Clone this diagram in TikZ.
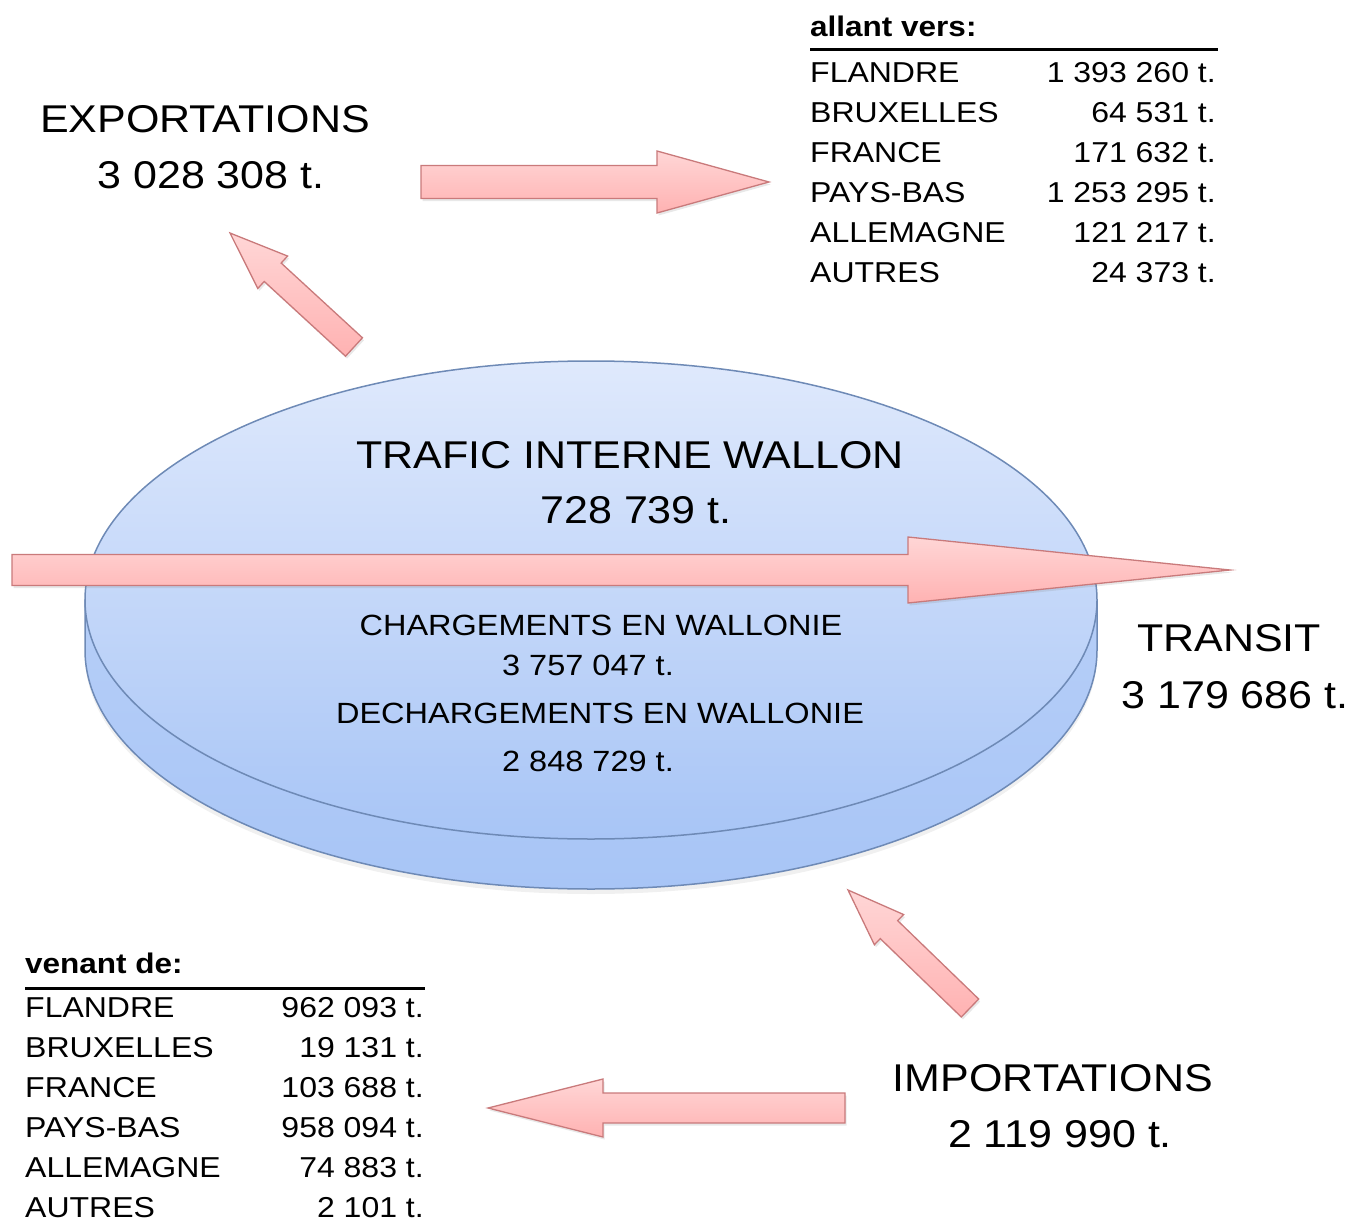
\documentclass[tikz,border=0pt]{standalone}
\usepackage{fontspec}
\setmainfont{Liberation Sans}
\usetikzlibrary{calc,shadows}
\definecolor{arrowedge}{HTML}{C97A7B}
\definecolor{arrowtop}{HTML}{FFD6D6}
\definecolor{arrowbot}{HTML}{FFB2B2}
\definecolor{discedge}{HTML}{6E8AB6}
\definecolor{disctop}{HTML}{DFE9FC}
\definecolor{discbot}{HTML}{A8C5F6}
\newcommand{\vsq}[1]{\scalebox{1}[0.9]{#1}}
\tikzset{
  big/.style={font=\fontsize{43}{48}\selectfont, inner sep=0pt},
  mid/.style={font=\fontsize{32.5}{38}\selectfont, inner sep=0pt},
  tabname/.style={font=\fontsize{32}{38}\selectfont, inner sep=0pt, anchor=west},
  tabnum/.style={font=\fontsize{32}{38}\selectfont, inner sep=0pt, anchor=east},
  tabhead/.style={font=\fontsize{31.5}{38}\selectfont\bfseries, inner sep=0pt, anchor=base west},
  tabrule/.style={line width=3pt},
  blockarrowstyle/.style={draw=arrowedge, line width=1.3pt, top color=arrowtop, bottom color=arrowbot, line join=miter,
    drop shadow={shadow xshift=1.5pt, shadow yshift=-2.5pt, opacity=0.18, fill=gray}},
  discstyle/.style={draw=discedge, line width=1.5pt},
}
% #1 tail, #2 tip, #3 half shaft width, #4 half head width, #5 head length
\newcommand{\blockarrow}[5]{%
  \coordinate (#1-base) at ($(#2)!#5!(#1)$);
  \path[blockarrowstyle] ($(#1)!#3!90:(#2)$) -- ($(#1-base)!#3!90:(#2)$) -- ($(#1-base)!#4!90:(#2)$)
    -- (#2) -- ($(#1-base)!#4!-90:(#2)$) -- ($(#1-base)!#3!-90:(#2)$) -- ($(#1)!#3!-90:(#2)$) -- cycle;
}
\begin{document}
\begin{tikzpicture}[x=1pt,y=-1pt]
\useasboundingbox (0,0) rectangle (1350,1220);

% disc
\path[discstyle, top color=discbot!75!disctop, bottom color=discbot,
  drop shadow={shadow xshift=0pt, shadow yshift=-5pt, opacity=0.12, fill=gray}]
  (85,600) -- (85,650) arc[start angle=180, end angle=360, x radius=506pt, y radius=239pt] -- (1097,600) -- cycle;
\path[discstyle, top color=disctop, bottom color=discbot] (591,600) ellipse [x radius=506pt, y radius=239pt];

% arrow coordinates
\coordinate (expT) at (421,182);   \coordinate (expP) at (769,182);
\coordinate (traT) at (12,570);    \coordinate (traP) at (1230,570);
\coordinate (impT) at (845,1108);  \coordinate (impP) at (488,1108);
\coordinate (upT)  at (354,347);   \coordinate (upP)  at (230,233);
\coordinate (inT)  at (970,1008);  \coordinate (inP)  at (848,890);

\blockarrow{expT}{expP}{16.5pt}{31pt}{112pt}
\blockarrow{traT}{traP}{15.5pt}{33pt}{322pt}
\blockarrow{impT}{impP}{15pt}{29pt}{115pt}
\blockarrow{upT}{upP}{12.5pt}{22pt}{58pt}
\blockarrow{inT}{inP}{12.5pt}{21pt}{57pt}

% main labels
\node[big] (exp1) at (205,119) {\vsq{EXPORTATIONS}};
\node[big] (exp2) at (211,175) {\vsq{3 028 308 t.}};
\node[big] (tri1) at (630,455) {\vsq{TRAFIC INTERNE WALLON}};
\node[big] (tri2) at (636,510) {\vsq{728 739 t.}};
\node[mid] (chg1) at (601,625) {\vsq{CHARGEMENTS EN WALLONIE}};
\node[mid] (chg2) at (588,665) {\vsq{3 757 047 t.}};
\node[mid] (dch1) at (600,713) {\vsq{DECHARGEMENTS EN WALLONIE}};
\node[mid] (dch2) at (588,761) {\vsq{2 848 729 t.}};
\node[big] (tra1) at (1229,638) {\vsq{TRANSIT}};
\node[big] (tra2) at (1235,695) {\vsq{3 179 686 t.}};
\node[big] (imp1) at (1053,1078) {\vsq{IMPORTATIONS}};
\node[big] (imp2) at (1060,1134) {\vsq{2 119 990 t.}};

% table: allant vers
\node[tabhead] (avh) at (810,37) {\vsq{allant vers:}};
\coordinate (avl) at (810,50); \coordinate (avr) at (1218,50);
\draw[tabrule] (avl) -- (avr);
\foreach \nm/\val [count=\i from 0] in {FLANDRE/1 393 260 t., BRUXELLES/64 531 t., FRANCE/171 632 t., PAYS-BAS/1 253 295 t., ALLEMAGNE/121 217 t., AUTRES/24 373 t.}{
  \node[tabname] (av-n\i) at (810,73+40*\i) {\vsq{\nm}};
  \node[tabnum] (av-v\i) at (1216,73+40*\i) {\vsq{\val}};
}

% table: venant de
\node[tabhead] (vdh) at (25,973) {\vsq{venant de:}};
\coordinate (vdl) at (25,988); \coordinate (vdr) at (425,988);
\draw[tabrule] (vdl) -- (vdr);
\foreach \nm/\val [count=\i from 0] in {FLANDRE/962 093 t., BRUXELLES/19 131 t., FRANCE/103 688 t., PAYS-BAS/958 094 t., ALLEMAGNE/74 883 t., AUTRES/2 101 t.}{
  \node[tabname] (vd-n\i) at (25,1007.5+40*\i) {\vsq{\nm}};
  \node[tabnum] (vd-v\i) at (424,1007.5+40*\i) {\vsq{\val}};
}
\end{tikzpicture}
\end{document}
